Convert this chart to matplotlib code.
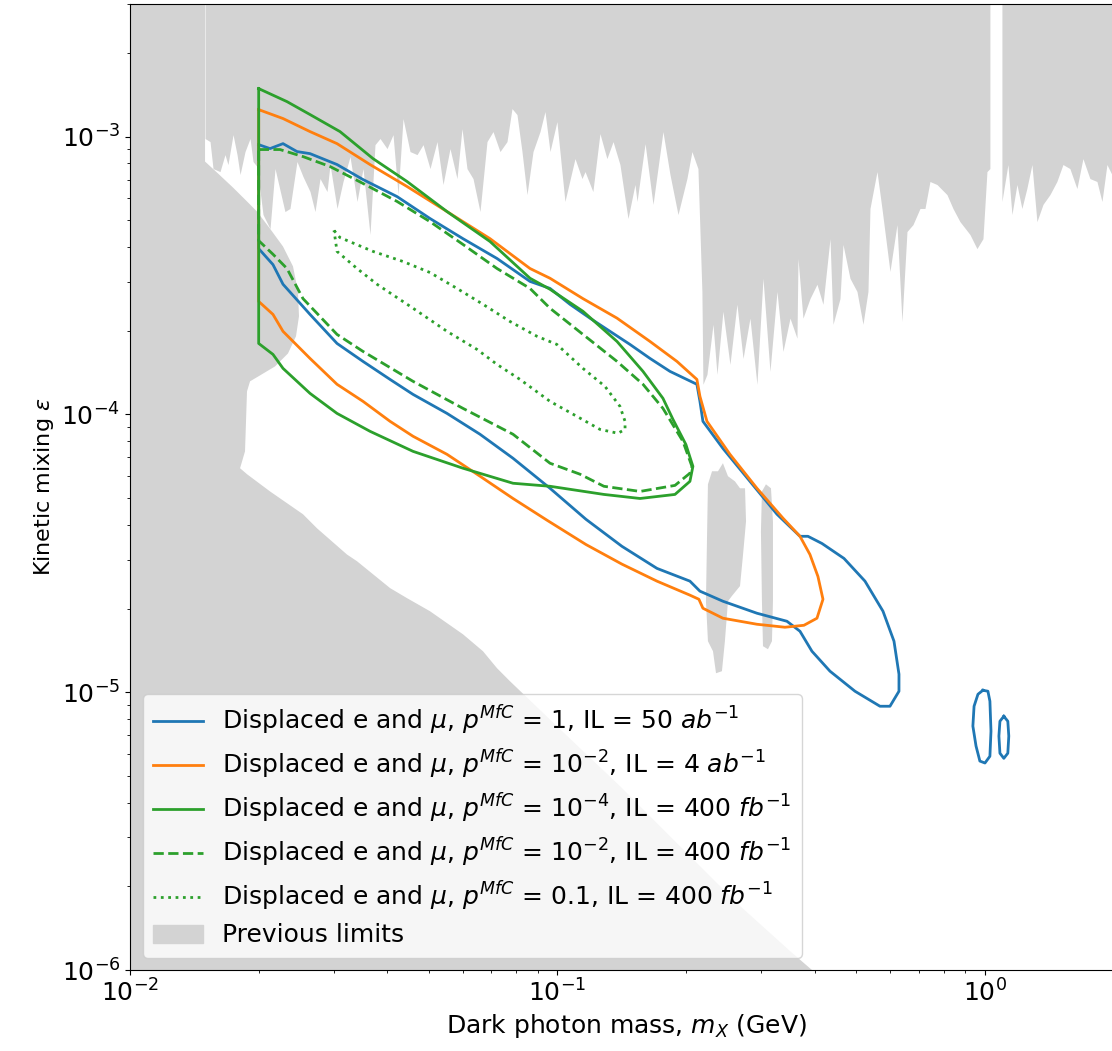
import matplotlib
matplotlib.use("Agg")
import matplotlib.pyplot as plt
from matplotlib.patches import Patch
from matplotlib.lines import Line2D

# ---- previous limits (grey) ----
up1_x = [0.01498, 0.01539, 0.01564, 0.01624, 0.01668, 0.01695, 0.01742, 0.0178, 0.01809, 0.01858,
         0.01909, 0.0194, 0.01982, 0.02047, 0.02126, 0.02184, 0.02304, 0.02367, 0.02458, 0.02539,
         0.02637, 0.02709, 0.02783, 0.0289, 0.02937, 0.0305, 0.0315, 0.03271, 0.03397, 0.03508,
         0.03643, 0.03742, 0.03845, 0.03993, 0.04124, 0.04237, 0.04352, 0.04519, 0.04693, 0.04848,
         0.05033, 0.05226, 0.05398, 0.05605, 0.0582, 0.05979, 0.06142, 0.06345, 0.06588, 0.06841,
         0.07066, 0.07337, 0.07619, 0.07827, 0.0804, 0.0826, 0.08486, 0.08765, 0.09101, 0.09349,
         0.09605, 0.0997, 0.1041, 0.1099, 0.1141, 0.116, 0.121, 0.1257, 0.1305, 0.1349,
         0.14, 0.1462, 0.1518, 0.1535, 0.1603, 0.1673, 0.1765, 0.1833, 0.1914, 0.2008,
         0.2063, 0.2131, 0.2177, 0.2189, 0.2237, 0.2311, 0.2361, 0.2438, 0.2532, 0.2629,
         0.2717, 0.282, 0.2928, 0.3025, 0.3141, 0.3262, 0.3369, 0.3499, 0.3633, 0.3653,
         0.3752, 0.3896, 0.4046, 0.4179, 0.434, 0.4411, 0.458, 0.4655, 0.4833, 0.5019,
         0.5184, 0.5325, 0.5383, 0.559, 0.5742, 0.5995, 0.6225, 0.6395, 0.657, 0.6786,
         0.7047, 0.7239, 0.7436, 0.7722, 0.8149, 0.8417, 0.874, 0.9224, 0.9578, 0.9893,
         1.0108, 1.027]
up1_y = [9.84e-4, 9.59e-4, 7.67e-4, 7.48e-4, 8.61e-4, 7.93e-4, 1.016e-3, 8.61e-4, 7.30e-4, 8.83e-4,
         9.84e-4, 8.13e-4, 7.80e-4, 5.24e-4, 4.66e-4, 7.67e-4, 5.37e-4, 5.51e-4, 8.13e-4, 7.18e-4,
         6.34e-4, 5.37e-4, 7.06e-4, 6.34e-4, 7.93e-4, 5.51e-4, 6.89e-4, 8.47e-4, 5.84e-4, 7.67e-4,
         4.44e-4, 9.35e-4, 9.84e-4, 9.05e-4, 1.016e-3, 6.18e-4, 1.161e-3, 8.83e-4, 8.61e-4, 9.35e-4,
         7.67e-4, 9.59e-4, 6.72e-4, 9.05e-4, 7.06e-4, 1.068e-3, 7.67e-4, 7.06e-4, 5.37e-4, 9.59e-4,
         1.042e-3, 8.83e-4, 9.59e-4, 1.261e-3, 1.20e-3, 8.83e-4, 6.18e-4, 8.83e-4, 1.042e-3, 1.230e-3,
         8.83e-4, 1.132e-3, 5.84e-4, 8.33e-4, 7.06e-4, 7.48e-4, 6.34e-4, 1.025e-3, 8.33e-4, 9.59e-4,
         7.93e-4, 5.07e-4, 6.72e-4, 5.84e-4, 9.43e-4, 5.70e-4, 1.042e-3, 7.30e-4, 5.24e-4, 7.06e-4,
         8.83e-4, 7.67e-4, 2.77e-4, 1.283e-4, 1.393e-4, 2.11e-4, 1.393e-4, 2.35e-4, 1.513e-4, 2.49e-4,
         1.59e-4, 2.22e-4, 1.283e-4, 3.09e-4, 1.428e-4, 2.77e-4, 1.685e-4, 2.22e-4, 1.88e-4, 3.64e-4,
         2.22e-4, 2.61e-4, 2.94e-4, 2.49e-4, 4.29e-4, 2.11e-4, 2.61e-4, 4.09e-4, 3.09e-4, 2.77e-4,
         2.11e-4, 2.77e-4, 5.51e-4, 7.48e-4, 5.51e-4, 3.27e-4, 4.82e-4, 2.16e-4, 4.55e-4, 4.82e-4,
         5.51e-4, 5.51e-4, 6.89e-4, 6.72e-4, 6.18e-4, 5.51e-4, 4.94e-4, 4.44e-4, 3.95e-4, 4.29e-4,
         7.48e-4, 7.67e-4]
up2_x = [1.0957, 1.1317, 1.1564, 1.188, 1.220, 1.253, 1.288, 1.323, 1.367, 1.419, 1.473,
         1.522, 1.580, 1.641, 1.695, 1.760, 1.828, 1.878, 1.929, 1.981, 2.15]
up2_y = [5.84e-4, 7.93e-4, 5.24e-4, 6.72e-4, 5.51e-4, 6.50e-4, 7.93e-4, 4.94e-4, 5.70e-4, 6.18e-4, 6.89e-4,
         7.93e-4, 7.67e-4, 6.50e-4, 8.33e-4, 7.06e-4, 6.89e-4, 5.84e-4, 7.93e-4, 7.30e-4, 7.48e-4]
low_x = [0.01, 0.01, 0.01498, 0.01498, 0.01607, 0.01742, 0.01878, 0.01982, 0.02126, 0.0228,
         0.02406, 0.02471, 0.02485, 0.02445, 0.02342, 0.02184, 0.02014, 0.01909, 0.01878, 0.01868,
         0.01858, 0.01809, 0.01878, 0.02126, 0.02539, 0.02738, 0.03218, 0.03397, 0.04058, 0.04447,
         0.05033, 0.0601, 0.06695, 0.0722, 0.07743, 0.10136, 0.14, 0.1934, 0.2673, 0.3499, 0.3938]
low_y = [1e-6, 3e-3, 3e-3, 8.13e-4, 7.36e-4, 6.55e-4, 5.84e-4, 5.37e-4, 4.66e-4, 4.02e-4,
         3.41e-4, 2.77e-4, 2.255e-4, 1.91e-4, 1.657e-4, 1.488e-4, 1.381e-4, 1.315e-4, 1.21e-4, 9.44e-5,
         7.36e-5, 6.40e-5, 6.09e-5, 5.28e-5, 4.37e-5, 3.89e-5, 3.13e-5, 2.96e-5, 2.37e-5, 2.18e-5,
         1.956e-5, 1.616e-5, 1.404e-5, 1.22e-5, 1.095e-5, 7.36e-6, 4.59e-6, 2.79e-6, 1.70e-6, 1.17e-6, 1e-6]
blob1_x = [0.2249, 0.2299, 0.2374, 0.2438, 0.2505, 0.2601, 0.2673, 0.2746, 0.2761, 0.2717,
           0.2673, 0.2559, 0.2505, 0.2464, 0.2425, 0.2349, 0.2311, 0.2249, 0.2225, 0.2237]
blob1_y = [5.60e-5, 6.24e-5, 6.24e-5, 6.67e-5, 5.99e-5, 5.74e-5, 5.42e-5, 5.42e-5, 4.12e-5, 3.13e-5,
           2.41e-5, 2.22e-5, 2.125e-5, 1.526e-5, 1.19e-5, 1.17e-5, 1.404e-5, 1.526e-5, 2.125e-5, 3.49e-5]
blob2_x = [0.3008, 0.3074, 0.3158, 0.3192, 0.3192, 0.3175, 0.3107, 0.3025, 0.3008, 0.2992]
blob2_y = [5.28e-5, 5.60e-5, 5.42e-5, 4.12e-5, 2.125e-5, 1.526e-5, 1.428e-5, 1.464e-5, 2.125e-5, 3.79e-5]

# ---- sensitivity contours ----
blue_x = [0.02, 0.02126, 0.0228, 0.02458, 0.02637, 0.0305, 0.0351, 0.04214, 0.05033, 0.0601,
          0.0722, 0.08624, 0.09605, 0.10695, 0.1191, 0.1327, 0.1478, 0.1646, 0.1833, 0.2119,
          0.2154, 0.2189, 0.2438, 0.282, 0.3262, 0.3692, 0.3854, 0.4156, 0.468, 0.524,
          0.5774, 0.6126, 0.6293, 0.6293, 0.5995, 0.5681, 0.4965, 0.434, 0.3938, 0.3692,
          0.3442, 0.2928, 0.2438, 0.2154, 0.2041, 0.1709, 0.1415, 0.1166, 0.09605, 0.0787,
          0.06588, 0.05515, 0.04593, 0.04058, 0.03508, 0.0305, 0.02637, 0.0228, 0.0216, 0.02, 0.02]
blue_y = [9.35e-4, 9.05e-4, 9.43e-4, 8.83e-4, 8.68e-4, 7.93e-4, 7.0e-4, 6.08e-4, 5.07e-4, 4.29e-4,
          3.64e-4, 3.01e-4, 2.84e-4, 2.49e-4, 2.22e-4, 1.99e-4, 1.785e-4, 1.59e-4, 1.428e-4, 1.283e-4,
          1.114e-4, 9.44e-5, 7.54e-5, 5.74e-5, 4.37e-5, 3.64e-5, 3.64e-5, 3.43e-5, 3.03e-5, 2.51e-5,
          1.956e-5, 1.526e-5, 1.161e-5, 1.008e-5, 8.90e-6, 8.90e-6, 1.008e-5, 1.19e-5, 1.404e-5, 1.657e-5,
          1.80e-5, 1.924e-5, 2.125e-5, 2.31e-5, 2.51e-5, 2.79e-5, 3.35e-5, 4.19e-5, 5.42e-5, 6.95e-5,
          8.48e-5, 1.008e-4, 1.18e-4, 1.336e-4, 1.551e-4, 1.80e-4, 2.29e-4, 2.94e-4, 3.46e-4, 3.95e-4, 9.35e-4]
blue_loop1_x = [0.989, 1.016, 1.027, 1.033, 1.027, 1.000, 0.973, 0.953, 0.937, 0.943, 0.963, 0.989]
blue_loop1_y = [1.016e-5, 1.008e-5, 9.28e-6, 7.24e-6, 5.88e-6, 5.56e-6, 5.65e-6, 6.40e-6, 7.55e-6, 8.90e-6, 9.83e-6, 1.016e-5]
blue_loop2_x = [1.107, 1.131, 1.137, 1.131, 1.107, 1.084, 1.078, 1.084, 1.107]
blue_loop2_y = [8.19e-6, 7.86e-6, 6.95e-6, 6.03e-6, 5.78e-6, 6.03e-6, 6.95e-6, 7.86e-6, 8.19e-6]

orange_x = [0.02, 0.0228, 0.02637, 0.0305, 0.03643, 0.04447, 0.05515, 0.06953, 0.08624, 0.09605,
            0.1147, 0.1378, 0.1646, 0.1903, 0.2119, 0.2154, 0.2237, 0.2532, 0.2928, 0.3369,
            0.3692, 0.3896, 0.4067, 0.4179, 0.4046, 0.3772, 0.3405, 0.2928, 0.2438, 0.2189,
            0.2142, 0.2041, 0.1709, 0.1415, 0.1166, 0.0945, 0.0787, 0.06588, 0.05515, 0.04593,
            0.04058, 0.03508, 0.0305, 0.02637, 0.0228, 0.0216, 0.02, 0.02]
orange_y = [1.25e-3, 1.161e-3, 1.042e-3, 9.43e-4, 7.93e-4, 6.61e-4, 5.37e-4, 4.29e-4, 3.35e-4, 3.09e-4,
            2.61e-4, 2.22e-4, 1.83e-4, 1.551e-4, 1.336e-4, 1.161e-4, 9.44e-5, 7.18e-5, 5.42e-5, 4.23e-5,
            3.64e-5, 3.13e-5, 2.61e-5, 2.16e-5, 1.846e-5, 1.741e-5, 1.713e-5, 1.756e-5, 1.846e-5, 2.005e-5,
            2.16e-5, 2.235e-5, 2.51e-5, 2.89e-5, 3.40e-5, 4.16e-5, 4.98e-5, 5.99e-5, 7.18e-5, 8.34e-5,
            9.44e-5, 1.114e-4, 1.283e-4, 1.59e-4, 1.99e-4, 2.29e-4, 2.55e-4, 1.25e-3]

green_x = [0.02, 0.02329, 0.02637, 0.03099, 0.03702, 0.04447, 0.05515, 0.06953, 0.08624, 0.09605,
           0.1147, 0.1378, 0.1585, 0.1765, 0.1863, 0.1997, 0.2074, 0.2041, 0.1883, 0.156,
           0.1284, 0.09605, 0.0787, 0.0601, 0.04593, 0.03643, 0.0305, 0.02637, 0.0228, 0.0216, 0.02, 0.02]
green_y = [1.488e-3, 1.336e-3, 1.20e-3, 1.042e-3, 8.33e-4, 6.89e-4, 5.37e-4, 4.19e-4, 3.09e-4, 2.82e-4,
           2.35e-4, 1.83e-4, 1.428e-4, 1.142e-4, 9.59e-5, 7.79e-5, 6.50e-5, 5.74e-5, 5.15e-5, 4.98e-5,
           5.15e-5, 5.51e-5, 5.65e-5, 6.40e-5, 7.36e-5, 8.69e-5, 1.008e-4, 1.19e-4, 1.464e-4, 1.644e-4, 1.80e-4, 1.488e-3]

dashed_x = [0.02, 0.02243, 0.02539, 0.02937, 0.03508, 0.04214, 0.05033, 0.0601, 0.0722, 0.08624,
            0.09605, 0.1147, 0.1378, 0.1585, 0.1765, 0.1966, 0.2063, 0.2041, 0.1883, 0.156,
            0.1284, 0.1129, 0.09605, 0.0787, 0.0601, 0.04593, 0.03508, 0.0305, 0.02539, 0.02329,
            0.0216, 0.02, 0.02]
dashed_y = [8.98e-4, 8.98e-4, 8.47e-4, 7.80e-4, 6.78e-4, 5.84e-4, 4.94e-4, 4.09e-4, 3.35e-4, 2.84e-4,
            2.41e-4, 1.94e-4, 1.551e-4, 1.283e-4, 1.051e-4, 7.99e-5, 6.50e-5, 6.14e-5, 5.55e-5, 5.28e-5,
            5.51e-5, 6.09e-5, 6.67e-5, 8.48e-5, 1.051e-4, 1.315e-4, 1.685e-4, 1.94e-4, 2.61e-4, 3.35e-4,
            3.77e-4, 4.22e-4, 8.98e-4]

dotted_x = [0.03001, 0.03099, 0.03702, 0.04352, 0.05033, 0.0582, 0.06695, 0.07743, 0.08955, 0.0997,
            0.1147, 0.1291, 0.14, 0.1439, 0.1439, 0.1385, 0.1257, 0.1111, 0.09605, 0.08172,
            0.0722, 0.06483, 0.05515, 0.04593, 0.03783, 0.03397, 0.0305, 0.03001]
dotted_y = [4.59e-4, 4.33e-4, 3.86e-4, 3.55e-4, 3.24e-4, 2.84e-4, 2.49e-4, 2.16e-4, 1.91e-4, 1.785e-4,
            1.464e-4, 1.262e-4, 1.069e-4, 9.44e-5, 8.83e-5, 8.55e-5, 8.83e-5, 9.83e-5, 1.114e-4, 1.336e-4,
            1.513e-4, 1.713e-4, 1.99e-4, 2.41e-4, 2.94e-4, 3.35e-4, 3.86e-4, 4.59e-4]

labels = [
    r"Displaced e and $\mu$, $p^{MfC}$ = 1, IL = 50 $ab^{-1}$",
    r"Displaced e and $\mu$, $p^{MfC}$ = $10^{-2}$, IL = 4 $ab^{-1}$",
    r"Displaced e and $\mu$, $p^{MfC}$ = $10^{-4}$, IL = 400 $fb^{-1}$",
    r"Displaced e and $\mu$, $p^{MfC}$ = $10^{-2}$, IL = 400 $fb^{-1}$",
    r"Displaced e and $\mu$, $p^{MfC}$ = 0.1, IL = 400 $fb^{-1}$",
    "Previous limits",
]

GREY = "#d3d3d3"
YTOP, YBOT = 3e-3, 1e-6
plt.rcParams["font.size"] = 18

fig = plt.figure(figsize=(11.12, 10.51), dpi=100)
ax = fig.add_axes([130 / 1112, 81 / 1051, 992.7 / 1112, 966 / 1051])
ax.set_xscale("log"); ax.set_yscale("log")

# previous limits
ax.fill_between(up1_x, up1_y, YTOP, color=GREY, lw=0, zorder=1)
ax.fill_between(up2_x, up2_y, YTOP, color=GREY, lw=0, zorder=1)
ax.fill(low_x, low_y, color=GREY, lw=0, zorder=1)
ax.fill(blob1_x, blob1_y, color=GREY, lw=0, zorder=1)
ax.fill(blob2_x, blob2_y, color=GREY, lw=0, zorder=1)

lw = 2.0
ax.plot(blue_x, blue_y, color="C0", lw=lw, zorder=3)
ax.plot(blue_loop1_x, blue_loop1_y, color="C0", lw=lw, zorder=3)
ax.plot(blue_loop2_x, blue_loop2_y, color="C0", lw=lw, zorder=3)
ax.plot(orange_x, orange_y, color="C1", lw=lw, zorder=3)
ax.plot(dashed_x, dashed_y, color="C2", lw=lw, ls="--", zorder=3)
ax.plot(dotted_x, dotted_y, color="C2", lw=lw, ls=":", zorder=3)
ax.plot(green_x, green_y, color="C2", lw=lw, zorder=4)

ax.set_xlim(1e-2, 2.1)
ax.set_ylim(YBOT, YTOP)
ax.set_xlabel(r"Dark photon mass, $m_X$ (GeV)")
ax.set_ylabel("Kinetic mixing $ε$", fontsize=16)

handles = [Line2D([], [], color="C0", lw=lw),
           Line2D([], [], color="C1", lw=lw),
           Line2D([], [], color="C2", lw=lw),
           Line2D([], [], color="C2", lw=lw, ls="--"),
           Line2D([], [], color="C2", lw=lw, ls=":"),
           Patch(color=GREY)]
ax.legend(handles, labels, loc="lower left", labelspacing=0.42)

fig.savefig("out.png", dpi=100)
